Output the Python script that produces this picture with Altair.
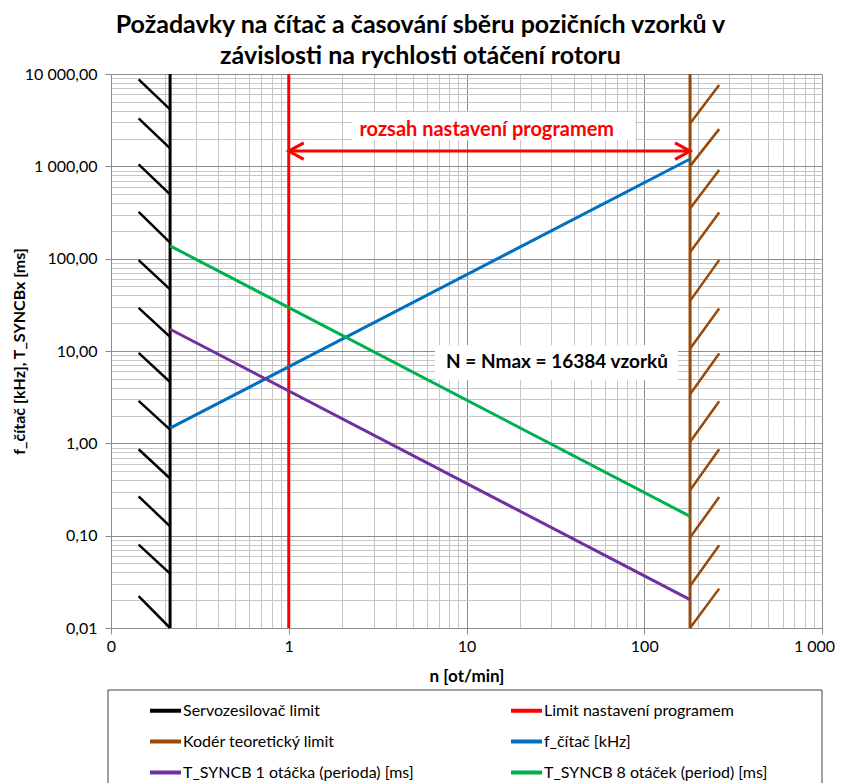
import altair as alt
import pandas as pd

# ---------------- data ----------------
series_names = [
    "Servozesilovač limit",
    "Limit nastavení programem",
    "Kodér teoretický limit",
    "f_čítač [kHz]",
    "T_SYNCB 1 otáčka (perioda) [ms]",
    "T_SYNCB 8 otáček (period) [ms]",
]
series_colors = ["#000000", "#FF0000", "#984807", "#0070C0", "#7030A0", "#00B050"]

n_servo = 0.215          # ot/min
n_prog = 1.0
n_koder = 181.0
y_span = [0.01, 10000.0]

n_range = [0.215, 181.0]
f_citac = [1.46, 1200.0]
t_sync_1 = [17.2, 0.0203]
t_sync_8 = [137.6, 0.162]

# hatching of the limits
servo_hatch_x = [0.143, 0.215]
servo_hatch_top = [8740, 3300, 1050, 321, 96.4, 29.3, 9.53, 2.88, 0.863, 0.267, 0.0801, 0.0222]
servo_hatch_bottom = [4140, 1563, 496, 149, 46.4, 14.2, 4.62, 1.41, 0.416, 0.126, 0.0388, 0.01]
koder_hatch_x = [181.0, 264.0]
koder_hatch_bottom = [2917, 1005, 350, 117.5, 34.9, 10.6, 3.40, 1.035, 0.310, 0.0953, 0.0285, 0.01]
koder_hatch_top = [7585, 2530, 910, 317, 96.4, 28.8, 9.4, 2.86, 0.863, 0.262, 0.0787, 0.0267]

# annotations
arrow_y = 1462.0
arrow_x = [1.0, 181.0]
range_text = ["rozsah nastavení programem"]
range_x = [13.0]
range_y = [2466.0]
nmax_text = ["N = Nmax = 16384 vzorků"]
nmax_x = [32.3]
nmax_y = [7.56]
ann_box_x1 = [2.27, 6.65]
ann_box_x2 = [88.7, 154.9]
ann_box_y1 = [1923.0, 4.83]
ann_box_y2 = [3866.0, 11.56]

title_lines = [
    "Požadavky na čítač a časování sběru pozičních vzorků v",
    "závislosti na rychlosti otáčení rotoru",
]
x_title = "n [ot/min]"
y_title = "f_čítač [kHz], T_SYNCBx [ms]"

# ---------------- tables ----------------
rows = []
for name, xs, ys in [
    (series_names[0], [n_servo, n_servo], y_span),
    (series_names[1], [n_prog, n_prog], y_span),
    (series_names[2], [n_koder, n_koder], y_span),
    (series_names[3], n_range, f_citac),
    (series_names[4], n_range, t_sync_1),
    (series_names[5], n_range, t_sync_8),
]:
    for i, (xv, yv) in enumerate(zip(xs, ys)):
        rows.append({"series": name, "n": xv, "v": yv, "i": i})
lines_df = pd.DataFrame(rows)

servo_hatch = pd.DataFrame({
    "x1": [servo_hatch_x[0]] * len(servo_hatch_top),
    "x2": [servo_hatch_x[1]] * len(servo_hatch_top),
    "y1": servo_hatch_top,
    "y2": servo_hatch_bottom,
})
koder_hatch = pd.DataFrame({
    "x1": [koder_hatch_x[0]] * len(koder_hatch_top),
    "x2": [koder_hatch_x[1]] * len(koder_hatch_top),
    "y1": koder_hatch_bottom,
    "y2": koder_hatch_top,
})
arrow_df = pd.DataFrame({"x1": [arrow_x[0]], "x2": [arrow_x[1]], "y": [arrow_y]})
arrow_left = pd.DataFrame({"x": [arrow_x[0]], "y": [arrow_y]})
arrow_right = pd.DataFrame({"x": [arrow_x[1]], "y": [arrow_y]})
box_df = pd.DataFrame({"bx1": ann_box_x1, "bx2": ann_box_x2, "by1": ann_box_y1, "by2": ann_box_y2})
range_df = pd.DataFrame({"text": range_text, "x": range_x, "y": range_y})
nmax_df = pd.DataFrame({"text": nmax_text, "x": nmax_x, "y": nmax_y})

# ---------------- scales / axes ----------------
FONT = "Lato"
x_vals = [k * 10.0 ** e for e in range(-1, 3) for k in range(1, 10)] + [1000.0]
y_vals = [k * 10.0 ** e for e in range(-2, 4) for k in range(1, 10)] + [10000.0]
dec = "abs(log(datum.value)/LN10 - round(log(datum.value)/LN10)) < 1e-6"

x_scale = alt.Scale(type="log", domain=[0.1, 1000], nice=False)
y_scale = alt.Scale(type="log", domain=[0.01, 10000], nice=False)

x_axis = alt.Axis(
    values=x_vals,
    labelExpr=f"({dec}) ? (datum.value < 1 ? '0' : replace(format(datum.value, ','), ',', ' ')) : ''",
    gridColor={"condition": {"test": dec, "value": "#8c8c8c"}, "value": "#c6c6c6"},
    tickColor={"condition": {"test": dec, "value": "#8c8c8c"}, "value": "transparent"},
    labelOffset={"condition": {"test": "datum.value > 999", "value": -8}, "value": 0},
    tickSize=6, labelPadding=4, domainColor="#8c8c8c",
    title=x_title, titlePadding=14, titleFontSize=17,
    labelOverlap=False, labelFlush=False,
)
y_axis = alt.Axis(
    values=y_vals,
    labelExpr=f"({dec}) ? replace(replace(format(datum.value, ',.2f'), ',', ' '), '.', ',') : ''",
    gridColor={"condition": {"test": dec, "value": "#8c8c8c"}, "value": "#c6c6c6"},
    tickColor={"condition": {"test": dec, "value": "#8c8c8c"}, "value": "transparent"},
    tickSize=6, labelPadding=8, domainColor="#8c8c8c",
    title=y_title, titleFontSize=16, titleX=-92, titleY=277, titleAngle=270,
    titleBaseline="middle", titleAlign="center",
    labelOverlap=False, labelFlush=False,
)

base_x = alt.X("n:Q", scale=x_scale, axis=x_axis)
base_y = alt.Y("v:Q", scale=y_scale, axis=y_axis)

# ---------------- layers ----------------
lines = alt.Chart(lines_df).mark_line(strokeWidth=3).encode(
    x=base_x,
    y=base_y,
    color=alt.Color(
        "series:N",
        scale=alt.Scale(domain=series_names, range=series_colors),
        legend=alt.Legend(
            orient="none", legendX=37, legendY=619, columns=2, title=None,
            symbolType="stroke", symbolSize=961, symbolStrokeWidth=4,
            labelFont=FONT, labelFontSize=16, labelColor="#000000",
            labelOffset=0, rowPadding=5, columnPadding=89, labelLimit=400,
            direction="horizontal",
        ),
    ),
    detail="series:N",
    order="i:Q",
)

servo_h = alt.Chart(servo_hatch).mark_rule(strokeWidth=2.5, color="#000000").encode(
    x=alt.X("x1:Q", scale=x_scale), x2="x2:Q",
    y=alt.Y("y1:Q", scale=y_scale), y2="y2:Q",
)
koder_h = alt.Chart(koder_hatch).mark_rule(strokeWidth=2.5, color="#984807").encode(
    x=alt.X("x1:Q", scale=x_scale), x2="x2:Q",
    y=alt.Y("y1:Q", scale=y_scale), y2="y2:Q",
)

arrow = alt.Chart(arrow_df).mark_rule(strokeWidth=3, color="#FF0000").encode(
    x=alt.X("x1:Q", scale=x_scale), x2="x2:Q", y=alt.Y("y:Q", scale=y_scale),
)
head_l = alt.Chart(arrow_left).mark_point(
    shape="M 1 -0.55 L 0 0 L 1 0.55", size=900, filled=False,
    stroke="#FF0000", strokeWidth=3, opacity=1,
).encode(x=alt.X("x:Q", scale=x_scale), y=alt.Y("y:Q", scale=y_scale))
head_r = alt.Chart(arrow_right).mark_point(
    shape="M -1 -0.55 L 0 0 L -1 0.55", size=900, filled=False,
    stroke="#FF0000", strokeWidth=3, opacity=1,
).encode(x=alt.X("x:Q", scale=x_scale), y=alt.Y("y:Q", scale=y_scale))

ann_box = alt.Chart(box_df).mark_rect(fill="white").encode(
    x=alt.X("bx1:Q", scale=x_scale), x2="bx2:Q",
    y=alt.Y("by1:Q", scale=y_scale), y2="by2:Q",
)
range_label = alt.Chart(range_df).mark_text(
    font=FONT, fontSize=20, fontWeight="bold", baseline="middle", align="center",
    color="#FF0000",
).encode(x=alt.X("x:Q", scale=x_scale), y=alt.Y("y:Q", scale=y_scale), text="text:N")
nmax_label = alt.Chart(nmax_df).mark_text(
    font=FONT, fontSize=19, fontWeight="bold", baseline="middle", align="center",
    color="#000000",
).encode(x=alt.X("x:Q", scale=x_scale), y=alt.Y("y:Q", scale=y_scale), text="text:N")

legend_box = alt.Chart(pd.DataFrame({"k": [0]})).mark_rect(
    fill=None, stroke="#404040", strokeWidth=1,
).encode(
    x=alt.value(-3), x2=alt.value(711), y=alt.value(616), y2=alt.value(720),
)

chart = alt.layer(
    ann_box, lines, servo_h, koder_h, arrow, head_l, head_r,
    range_label, nmax_label, legend_box,
).properties(
    width=711,
    height=554,
    padding={"left": 103, "top": 66, "right": 14, "bottom": 155},
    autosize=alt.AutoSizeParams(type="none"),
    title=alt.TitleParams(
        text=title_lines, font=FONT, fontSize=25, fontWeight="bold",
        anchor="middle", frame="group", dx=-46, lineHeight=31, offset=-3,
        color="#000000",
    ),
).configure_view(
    stroke=None,
).configure_axis(
    labelFont=FONT, labelFontSize=16, labelColor="#000000",
    titleFont=FONT, titleFontWeight="bold", titleColor="#000000",
)

chart.save("out.html", embed_options={"renderer": "svg", "actions": False})
